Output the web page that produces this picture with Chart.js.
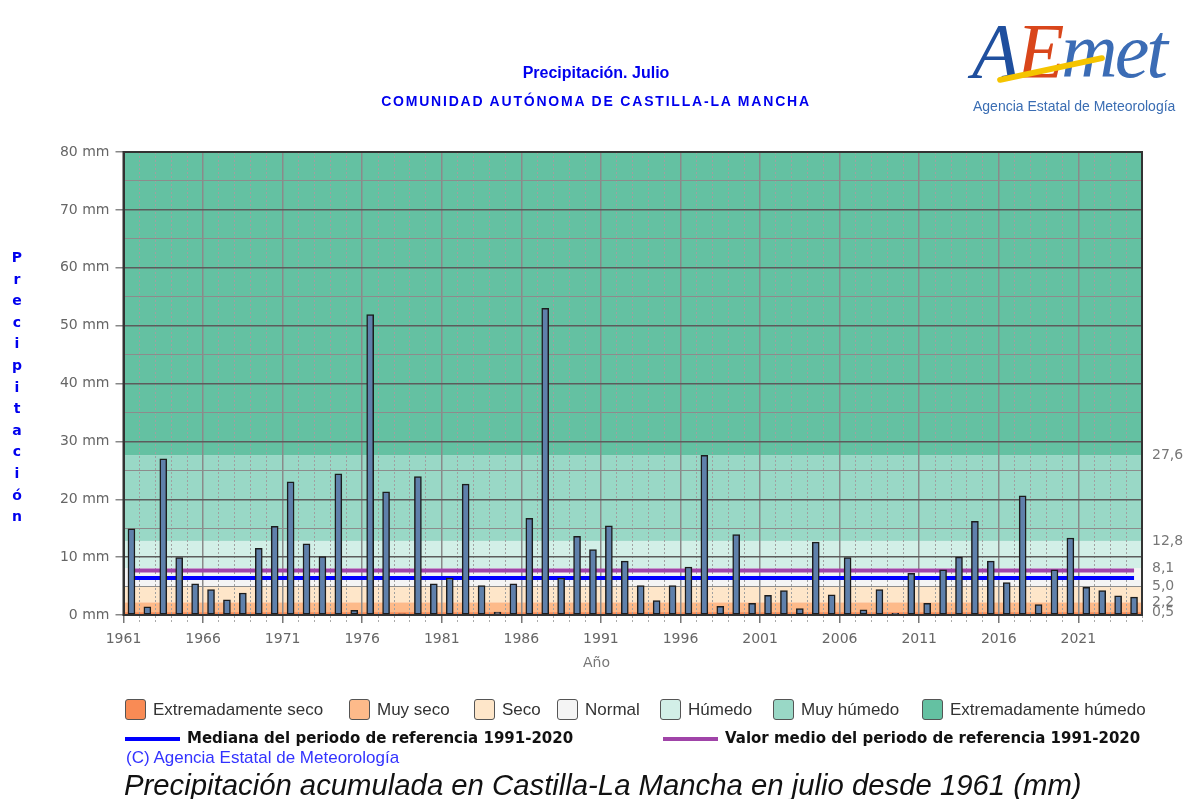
<!DOCTYPE html>
<html lang="es">
<head>
<meta charset="utf-8">
<title>Precipitación. Julio - Castilla-La Mancha</title>
<script src="https://cdn.jsdelivr.net/npm/chart.js@4.4.1/dist/chart.umd.min.js"></script>
<style>
    body { margin: 0; background: #fff; }
    #contenedor { position: relative; width: 1187px; height: 799px; overflow: hidden; font-family: "Liberation Sans", Arial, sans-serif; }
    #grafico { position: absolute; left: 0; top: 0; }
    .titulo { position: absolute; left: 0; width: 1192px; text-align: center; color: #0000ee; font-weight: bold; }
    #titulo1 { top: 64px; font-size: 16px; }
    #titulo2 { top: 93px; font-size: 14px; letter-spacing: 1.8px; }
    #ejeY { position: absolute; left: 9px; top: 247px; width: 16px; text-align: center; color: #0000ee; font: bold 14px "DejaVu Sans", sans-serif; line-height: 21.6px; }
    #anio { position: absolute; left: 583px; top: 654px; font: 14px "DejaVu Sans", sans-serif; color: #777; }
    .leyenda { position: absolute; top: 699px; height: 22px; font-size: 17px; color: #333; white-space: nowrap; }
    .leyenda .caja { position: absolute; left: 0; top: 0; width: 19px; height: 19px; border: 1.5px solid #555; border-radius: 3px; }
    .leyenda span.txt { position: absolute; left: 28px; top: 1px; }
    .linea { position: absolute; top: 729px; height: 20px; font: bold 15px "DejaVu Sans", sans-serif; color: #111; white-space: nowrap; }
    .linea .trazo { position: absolute; left: 0; top: 8px; width: 55px; height: 4px; }
    .linea span.txt { position: absolute; left: 62px; top: 0; }
    #copy { position: absolute; left: 126px; top: 748px; font-size: 17px; color: #3333ff; }
    #pie { position: absolute; left: 124px; top: 768px; font-size: 29.3px; font-style: italic; color: #111; white-space: nowrap; }
    #logo { position: absolute; left: 968px; top: 4px; width: 219px; height: 115px; }
    #logo .marca { position: absolute; left: 4px; top: 2px; font: italic 78px "Liberation Serif", serif; letter-spacing: -3px; white-space: nowrap; }
    #logo .raya { position: absolute; left: 28px; top: 62px; width: 110px; height: 6px; background: #f5c400; border-radius: 3px; transform: rotate(-12deg); }
    #logo .nombre { position: absolute; left: 5px; top: 94px; font-size: 14px; color: #3a6db3; white-space: nowrap; }
</style>
</head>
<body>
<div id="contenedor">
    <canvas id="grafico" width="1187" height="799"></canvas>

    <div class="titulo" id="titulo1">Precipitación. Julio</div>
    <div class="titulo" id="titulo2">COMUNIDAD AUTÓNOMA DE CASTILLA-LA MANCHA</div>

    <div id="ejeY">P<br>r<br>e<br>c<br>i<br>p<br>i<br>t<br>a<br>c<br>i<br>ó<br>n</div>
    <div id="anio">Año</div>

    <div id="logo">
        <div class="marca"><span style="color:#1f4f9e">A</span><span style="color:#d9461b">E</span><span style="color:#3b6cb5">met</span></div>
        <div class="raya"></div>
        <div class="nombre">Agencia Estatal de Meteorología</div>
    </div>

    <div id="leyendas"></div>

    <div class="linea" style="left:125px"><div class="trazo" style="background:#0000ff"></div><span class="txt">Mediana del periodo de referencia 1991-2020</span></div>
    <div class="linea" style="left:663px"><div class="trazo" style="background:#a044a8"></div><span class="txt">Valor medio del periodo de referencia 1991-2020</span></div>
    <div id="copy">(C) Agencia Estatal de Meteorología</div>
    <div id="pie">Precipitación acumulada en Castilla-La Mancha en julio desde 1961 (mm)</div>
</div>

<script>
// Años y precipitación de julio (mm)
const anios = [
    1961, 1962, 1963, 1964, 1965, 1966, 1967, 1968, 1969, 1970,
    1971, 1972, 1973, 1974, 1975, 1976, 1977, 1978, 1979, 1980,
    1981, 1982, 1983, 1984, 1985, 1986, 1987, 1988, 1989, 1990,
    1991, 1992, 1993, 1994, 1995, 1996, 1997, 1998, 1999, 2000,
    2001, 2002, 2003, 2004, 2005, 2006, 2007, 2008, 2009, 2010,
    2011, 2012, 2013, 2014, 2015, 2016, 2017, 2018, 2019, 2020,
    2021, 2022, 2023, 2024
];
const precipitacion = [
    14.9, 1.4, 27.0, 9.9, 5.4, 4.4, 2.6, 3.8, 11.5, 15.3,
    23.0, 12.3, 10.1, 24.4, 0.8, 51.9, 21.3, 0.2, 23.9, 5.4,
    6.4, 22.6, 5.1, 0.5, 5.4, 16.7, 53.0, 6.4, 13.6, 11.3,
    15.4, 9.3, 5.1, 2.5, 5.1, 8.3, 27.6, 1.5, 13.9, 2.0,
    3.4, 4.2, 1.1, 12.6, 3.5, 9.9, 0.9, 4.4, 0.3, 7.2,
    2.0, 7.8, 10.0, 16.2, 9.3, 5.6, 20.6, 1.8, 7.8, 13.3,
    4.8, 4.2, 3.3, 3.1
];

// Valores de referencia 1991-2020
const mediana = 6.4;
const valorMedio = 7.7;

// Umbrales de las categorías (eje derecho)
const umbrales = [0.5, 2.2, 5.0, 8.1, 12.8, 27.6];

// Categorías: nombre y color
const categorias = ['Extremadamente seco', 'Muy seco', 'Seco', 'Normal', 'Húmedo', 'Muy húmedo', 'Extremadamente húmedo'];
const coloresCategorias = ['#f98b55', '#fdba8a', '#fee6c9', '#f4f4f4', '#d2efe7', '#99d8c6', '#64c1a2'];
const posicionesLeyenda = [125, 349, 474, 557, 660, 773, 922];

const ejeMin = 0;
const ejeMax = 80;

// Leyenda de categorías en HTML
const leyendas = document.getElementById('leyendas');
categorias.forEach((nombre, i) => {
    const item = document.createElement('div');
    item.className = 'leyenda';
    item.style.left = posicionesLeyenda[i] + 'px';
    item.innerHTML = `<div class="caja" style="background:${coloresCategorias[i]}"></div><span class="txt">${nombre}</span>`;
    leyendas.appendChild(item);
});

// Franjas de fondo por categoría
const franjasFondo = {
    id: 'franjasFondo',
    beforeDraw(chart) {
        const { ctx, chartArea, scales } = chart;
        const limites = [ejeMin, ...umbrales, ejeMax];
        ctx.save();
        for (let i = 0; i < coloresCategorias.length; i++) {
            const yAbajo = scales.y.getPixelForValue(limites[i]);
            const yArriba = scales.y.getPixelForValue(limites[i + 1]);
            ctx.fillStyle = coloresCategorias[i];
            ctx.fillRect(chartArea.left, yArriba, chartArea.right - chartArea.left, yAbajo - yArriba);
        }
        ctx.restore();
    }
};

// Marco oscuro alrededor del área de trazado
const marco = {
    id: 'marco',
    afterDraw(chart) {
        const { ctx, chartArea } = chart;
        ctx.save();
        ctx.strokeStyle = '#333';
        ctx.lineWidth = 2;
        ctx.strokeRect(chartArea.left, chartArea.top, chartArea.right - chartArea.left, chartArea.bottom - chartArea.top);
        ctx.restore();
    }
};

const esMayorX = (ctx) => ctx.tick && (ctx.tick.value - 1961) % 5 === 0;
const esMayorY = (ctx) => ctx.tick && ctx.tick.value % 10 === 0;

const ctx = document.getElementById('grafico').getContext('2d');
const graficoPrecipitacion = new Chart(ctx, {
    type: 'bar',
    data: {
        datasets: [
            {
                label: 'Precipitación',
                data: anios.map((a, i) => ({ x: a + 0.5, y: precipitacion[i] })),
                backgroundColor: '#5f80ab',
                borderColor: '#1c1c1c',
                borderWidth: 1.5,
                borderSkipped: false,
                barThickness: 7,
                order: 0
            },
            {
                type: 'line',
                label: 'Valor medio del periodo de referencia 1991-2020',
                data: anios.map(a => ({ x: a + 0.5, y: valorMedio })),
                borderColor: '#a044a8',
                borderWidth: 4,
                pointRadius: 0,
                order: 1
            },
            {
                type: 'line',
                label: 'Mediana del periodo de referencia 1991-2020',
                data: anios.map(a => ({ x: a + 0.5, y: mediana })),
                borderColor: '#0000ff',
                borderWidth: 4,
                pointRadius: 0,
                order: 1
            }
        ]
    },
    options: {
        responsive: false,
        animation: false,
        layout: { padding: { top: 152, left: 0, right: 0, bottom: 127 } },
        plugins: {
            legend: { display: false },
            tooltip: { enabled: false }
        },
        scales: {
            x: {
                type: 'linear',
                min: 1961,
                max: 2025,
                offset: false,
                afterFit(scale) { scale.height = 57; },
                ticks: {
                    stepSize: 1,
                    autoSkip: false,
                    maxRotation: 0,
                    padding: 8,
                    color: '#666',
                    font: { family: 'DejaVu Sans', size: 14 },
                    callback: (v) => ((v - 1961) % 5 === 0 ? String(v) : '')
                },
                grid: {
                    offset: false,
                    color: (c) => (esMayorX(c) ? '#8a8a8a' : '#a0a0a0'),
                    lineWidth: (c) => (esMayorX(c) ? 1.5 : 1),
                    tickLength: 8,
                    tickColor: (c) => (esMayorX(c) ? '#777' : '#aaa'),
                    tickBorderDash: (c) => (esMayorX(c) ? [] : [2, 2])
                },
                border: {
                    color: '#333',
                    width: 2,
                    dash: (c) => (c.tick && !esMayorX(c) ? [2, 2] : [])
                }
            },
            y: {
                min: ejeMin,
                max: ejeMax,
                afterFit(scale) { scale.width = 123.5; },
                ticks: {
                    stepSize: 5,
                    padding: 6,
                    color: '#666',
                    font: { family: 'DejaVu Sans', size: 14 },
                    callback: (v) => (v % 10 === 0 ? v + ' mm' : '')
                },
                grid: {
                    color: (c) => (esMayorY(c) ? '#5c5c5c' : '#8c8c8c'),
                    lineWidth: (c) => (esMayorY(c) ? 1.5 : 1),
                    tickLength: 8,
                    tickColor: (c) => (esMayorY(c) ? '#888' : 'transparent')
                },
                border: { color: '#333', width: 2 }
            },
            y2: {
                position: 'right',
                min: ejeMin,
                max: ejeMax,
                afterFit(scale) { scale.width = 45; },
                afterBuildTicks(scale) { scale.ticks = umbrales.map(v => ({ value: v })); },
                ticks: {
                    autoSkip: false,
                    padding: 10,
                    color: '#777',
                    font: { family: 'DejaVu Sans', size: 14 },
                    callback: (v) => v.toFixed(1).replace('.', ',')
                },
                grid: { drawOnChartArea: false, drawTicks: false },
                border: { display: false }
            }
        }
    },
    plugins: [franjasFondo, marco]
});
</script>
</body>
</html>
